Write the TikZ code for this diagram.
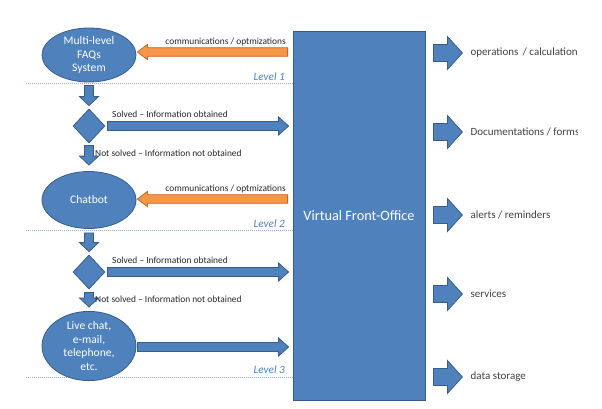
\documentclass[tikz,border=0pt]{standalone}
\usepackage{fontspec}
\setmainfont{Carlito}
\usetikzlibrary{shapes.geometric,calc}
\definecolor{ofblue}{HTML}{4F81BD}
\definecolor{ofblueline}{HTML}{385D8A}
\definecolor{oforange}{HTML}{F79646}
\definecolor{oforangeline}{HTML}{C0692A}
\definecolor{levelline}{HTML}{95B3D7}
\definecolor{labelgray}{HTML}{262626}
\definecolor{rightgray}{HTML}{404040}
\newcommand\blkR[6]{\path[#1] let \p1=(#2), \p2=(#3) in (\x1,\y1+#4) -- (\x2-#6,\y1+#4) -- (\x2-#6,\y1+#5) -- (\x2,\y1) -- (\x2-#6,\y1-#5) -- (\x2-#6,\y1-#4) -- (\x1,\y1-#4) -- cycle;}
\newcommand\blkL[6]{\path[#1] let \p1=(#2), \p2=(#3) in (\x1,\y1+#4) -- (\x2+#6,\y1+#4) -- (\x2+#6,\y1+#5) -- (\x2,\y1) -- (\x2+#6,\y1-#5) -- (\x2+#6,\y1-#4) -- (\x1,\y1-#4) -- cycle;}
\newcommand\blkD[6]{\path[#1] let \p1=(#2), \p2=(#3) in (\x1+#4,\y1) -- (\x1+#4,\y2+#6) -- (\x1+#5,\y2+#6) -- (\x1,\y2) -- (\x1-#5,\y2+#6) -- (\x1-#4,\y2+#6) -- (\x1-#4,\y1) -- cycle;}
\tikzset{
  bluearr/.style={fill=ofblue,draw=ofblueline,line width=0.8pt,line join=miter},
  orangearr/.style={fill=oforange,draw=oforangeline,line width=0.8pt,line join=miter},
  oval/.style={ellipse,fill=ofblue,draw=ofblueline,line width=0.8pt,inner sep=0pt,minimum width=94pt,
    text=white,font=\fontsize{11.6}{13.6}\selectfont,align=center},
  decision/.style={diamond,fill=ofblue,draw=ofblueline,line width=0.8pt,inner sep=0pt,minimum width=32pt,minimum height=34pt},
  office/.style={rectangle,fill=ofblue,draw=ofblueline,line width=0.8pt,minimum width=132pt,minimum height=369pt,
    text=white,font=\fontsize{14.3}{16}\selectfont},
  smalllabel/.style={text=labelgray,font=\fontsize{9.4}{11}\selectfont,inner sep=0pt},
  outlabel/.style={text=rightgray,font=\fontsize{11}{13}\selectfont,inner sep=0pt,anchor=west},
  levellabel/.style={text=ofblue,font=\fontsize{11.2}{13}\selectfont\itshape,inner sep=0pt,anchor=east},
  levelrule/.style={draw=levelline,line width=0.8pt,dash pattern=on 1pt off 1pt}
}
\begin{document}
\begin{tikzpicture}[x=1pt,y=-1pt]
\useasboundingbox (0,0) rectangle (602,408);
% level lines
\coordinate (l1a) at (26,83); \coordinate (l1b) at (293,83);
\coordinate (l2a) at (26,230); \coordinate (l2b) at (293,230);
\coordinate (l3a) at (26,377); \coordinate (l3b) at (293,377);
\draw[levelrule] (l1a) -- (l1b);
\draw[levelrule] (l2a) -- (l2b);
\draw[levelrule] (l3a) -- (l3b);
\node[levellabel] (lv1) at (285,77) {Level 1};
\node[levellabel] (lv2) at (285,224) {Level 2};
\node[levellabel] (lv3) at (285,370) {Level 3};
% main nodes
\node[office] (vfo) at (359,215.5) {Virtual Front-Office};
\node[oval,minimum height=54pt] (e1) at (89,55) {Multi-level\\FAQs\\System};
\node[oval,minimum height=57pt] (e2) at (89,200) {Chatbot};
\node[oval,minimum height=60pt] (e3) at (89,346) {Live chat,\\e-mail,\\telephone,\\etc.};
\node[decision] (d1) at (89,126) {};
\node[decision] (d2) at (89,272) {};
% down arrows
\blkD{bluearr}{$(e1.south)+(0,3)$}{$(d1.north)+(0,-3)$}{4.5pt}{9.5pt}{9pt}
\blkD{bluearr}{$(d1.south)+(0,2)$}{$(e2.north)+(0,-6)$}{4.5pt}{9.5pt}{9pt}
\blkD{bluearr}{$(e2.south)+(0,4)$}{$(d2.north)+(0,-3)$}{4.5pt}{9.5pt}{9pt}
\blkD{bluearr}{$(d2.south)+(0,3)$}{$(e3.north)+(0,-4)$}{4.5pt}{9.5pt}{9pt}
% solved arrows
\blkR{bluearr}{$(d1.east)+(2,0)$}{$(vfo.west|-d1.east)+(-4,0)$}{4.5pt}{9pt}{10pt}
\blkR{bluearr}{$(d2.east)+(2,0)$}{$(vfo.west|-d2.east)+(-4,0)$}{4.5pt}{9pt}{10pt}
\blkR{bluearr}{$(e3.east)+(1,1)$}{$(vfo.west|-e3.east)+(-4,1)$}{4.5pt}{9pt}{10pt}
% orange arrows
\blkL{orangearr}{$(vfo.west|-e1.east)+(-5,-3)$}{$(e1.east)+(1,-3)$}{4.3pt}{7.5pt}{10pt}
\blkL{orangearr}{$(vfo.west|-e2.east)+(-5,-1)$}{$(e2.east)+(1,-1)$}{4.3pt}{7.5pt}{10pt}
% small labels
\node[smalllabel,anchor=east] (c1) at (286,42) {communications / optmizations};
\node[smalllabel,anchor=east] (c2) at (286,189) {communications / optmizations};
\node[smalllabel,anchor=west] (s1) at (112,114) {Solved -- Information obtained};
\node[smalllabel,anchor=west] (s2) at (112,260) {Solved -- Information obtained};
\node[smalllabel,anchor=west] (n1) at (95,153) {Not solved -- Information not obtained};
\node[smalllabel,anchor=west] (n2) at (95,299) {Not solved -- Information not obtained};
% output arrows
\coordinate (r1) at ($(vfo.east|-0,53)+(8,0)$);
\coordinate (r2) at ($(vfo.east|-0,132)+(8,0)$);
\coordinate (r3) at ($(vfo.east|-0,215)+(8,0)$);
\coordinate (r4) at ($(vfo.east|-0,294)+(8,0)$);
\coordinate (r5) at ($(vfo.east|-0,377)+(8,0)$);
\foreach \r in {r1,r2,r3,r4,r5}{
  \blkR{bluearr}{\r}{$(\r)+(29,0)$}{8.5pt}{16.5pt}{15pt}
}
\begin{scope}
\clip (0,0) rectangle (577,408);
\node[outlabel] (o1) at ($(r1)+(37,0)$) {operations\, / calculations};
\node[outlabel] (o2) at ($(r2)+(37,0)$) {Documentations / forms};
\node[outlabel] (o3) at ($(r3)+(37,0)$) {alerts / reminders};
\node[outlabel] (o4) at ($(r4)+(37,0)$) {services};
\node[outlabel] (o5) at ($(r5)+(37,0)$) {data storage};
\end{scope}
\end{tikzpicture}
\end{document}
